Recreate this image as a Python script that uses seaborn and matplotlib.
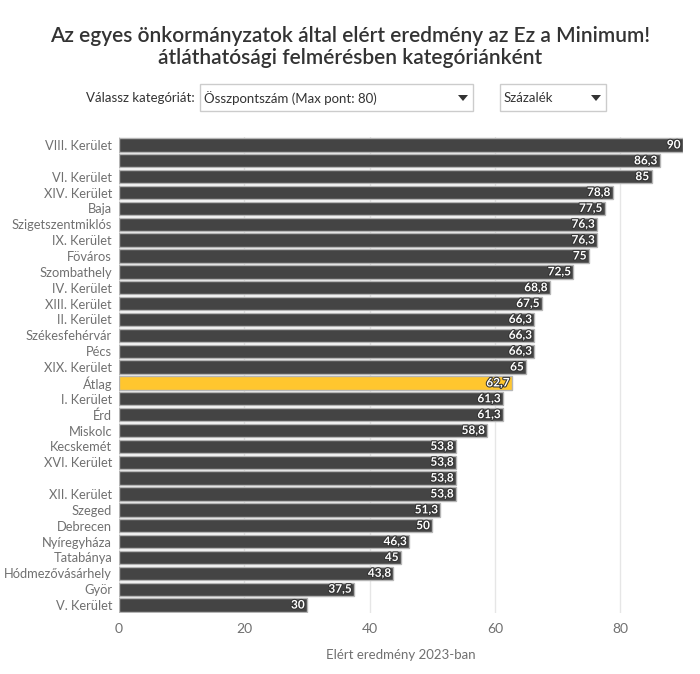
import matplotlib
matplotlib.use("Agg")
import matplotlib.pyplot as plt
import matplotlib.patheffects as pe
from matplotlib.patches import Rectangle, Polygon
import seaborn as sns
import pandas as pd

names = ["VIII. Kerület", "", "VI. Kerület", "XIV. Kerület", "Baja", "Szigetszentmiklós",
         "IX. Kerület", "Föváros", "Szombathely", "IV. Kerület", "XIII. Kerület", "II. Kerület",
         "Székesfehérvár", "Pécs", "XIX. Kerület", "Átlag", "I. Kerület", "Érd", "Miskolc",
         "Kecskemét", "XVI. Kerület", "", "XII. Kerület", "Szeged", "Debrecen", "Nyíregyháza",
         "Tatabánya", "Hódmezővásárhely", "Györ", "V. Kerület"]
values = [90, 86.3, 85, 78.8, 77.5, 76.3, 76.3, 75, 72.5, 68.8, 67.5, 66.3, 66.3, 66.3, 65,
          62.7, 61.3, 61.3, 58.8, 53.8, 53.8, 53.8, 53.8, 51.3, 50, 46.3, 45, 43.8, 37.5, 30]
x_ticks = [0, 20, 40, 60, 80]
title = "Az egyes önkormányzatok által elért eredmény az Ez a Minimum!\nátláthatósági felmérésben kategóriánként"
x_label = "Elért eredmény 2023-ban"

sns.set_theme(style="white")
plt.rcParams['font.family'] = ['Lato', 'DejaVu Sans']

df = pd.DataFrame({"key": [f"k{i}" for i in range(len(names))], "name": names, "value": values})
palette = {k: ("#FFC62E" if n == "Átlag" else "#444444") for k, n in zip(df["key"], df["name"])}

fig = plt.figure(figsize=(7.0, 6.74), dpi=100)
ax = fig.add_axes([119/700, 1-613/674, (683-119)/700, (613-137)/674])
sns.barplot(data=df, x="value", y="key", hue="key", palette=palette, legend=False, saturation=1,
            order=df["key"], width=0.84, edgecolor="#b5b5b5", linewidth=1.0, ax=ax, zorder=3)
ax.set_xlim(0, 90)
ax.set_xticks(x_ticks)
ax.set_xticklabels([str(t) for t in x_ticks], color="#707070", fontsize=10)
ax.set_yticks(range(len(names)))
ax.set_yticklabels(names, color="#707070", fontsize=9.3)
ax.tick_params(axis="both", length=0)
ax.tick_params(axis="y", pad=5)
ax.tick_params(axis="x", pad=7)
ax.set_ylabel("")
ax.set_xlabel(x_label, color="#707070", fontsize=9.5, labelpad=10)
for s in ax.spines.values():
    s.set_visible(False)
ax.grid(axis="x", color="#e6e6e6", linewidth=1, zorder=0)
ax.set_axisbelow(True)

for i, v in enumerate(values):
    lbl = f"{v:g}".replace(".", ",")
    ax.text(v - 0.4, i, lbl, ha="right", va="center", color="white", fontsize=8.5,
            fontweight="bold", zorder=5,
            path_effects=[pe.withStroke(linewidth=1.5, foreground="#333333")])

fig.text(0.5, 1-47/674, title, ha="center", va="center", fontsize=15, fontweight="semibold",
         color="#333333", linespacing=1.15)

# dropdown controls
fig.text(195/700, 1-98/674, "Válassz kategóriát:", ha="right", va="center", fontsize=9.5, color="#333333")
for (x0, x1, txt) in [(200, 473, "Összpontszám (Max pont: 80)"), (500, 606, "Százalék")]:
    fig.patches.append(Rectangle((x0/700, 1-111/674), (x1-x0)/700, 27/674, transform=fig.transFigure,
                                 facecolor="white", edgecolor="#cccccc", linewidth=1))
    fig.text((x0+4)/700, 1-98/674, txt, ha="left", va="center", fontsize=9.5, color="#333333")
    cx = x1 - 10
    fig.patches.append(Polygon([((cx-5)/700, 1-95/674), ((cx+5)/700, 1-95/674), (cx/700, 1-101/674)],
                               closed=True, transform=fig.transFigure, facecolor="#333333", edgecolor="none"))

fig.savefig("out.png", dpi=100)
